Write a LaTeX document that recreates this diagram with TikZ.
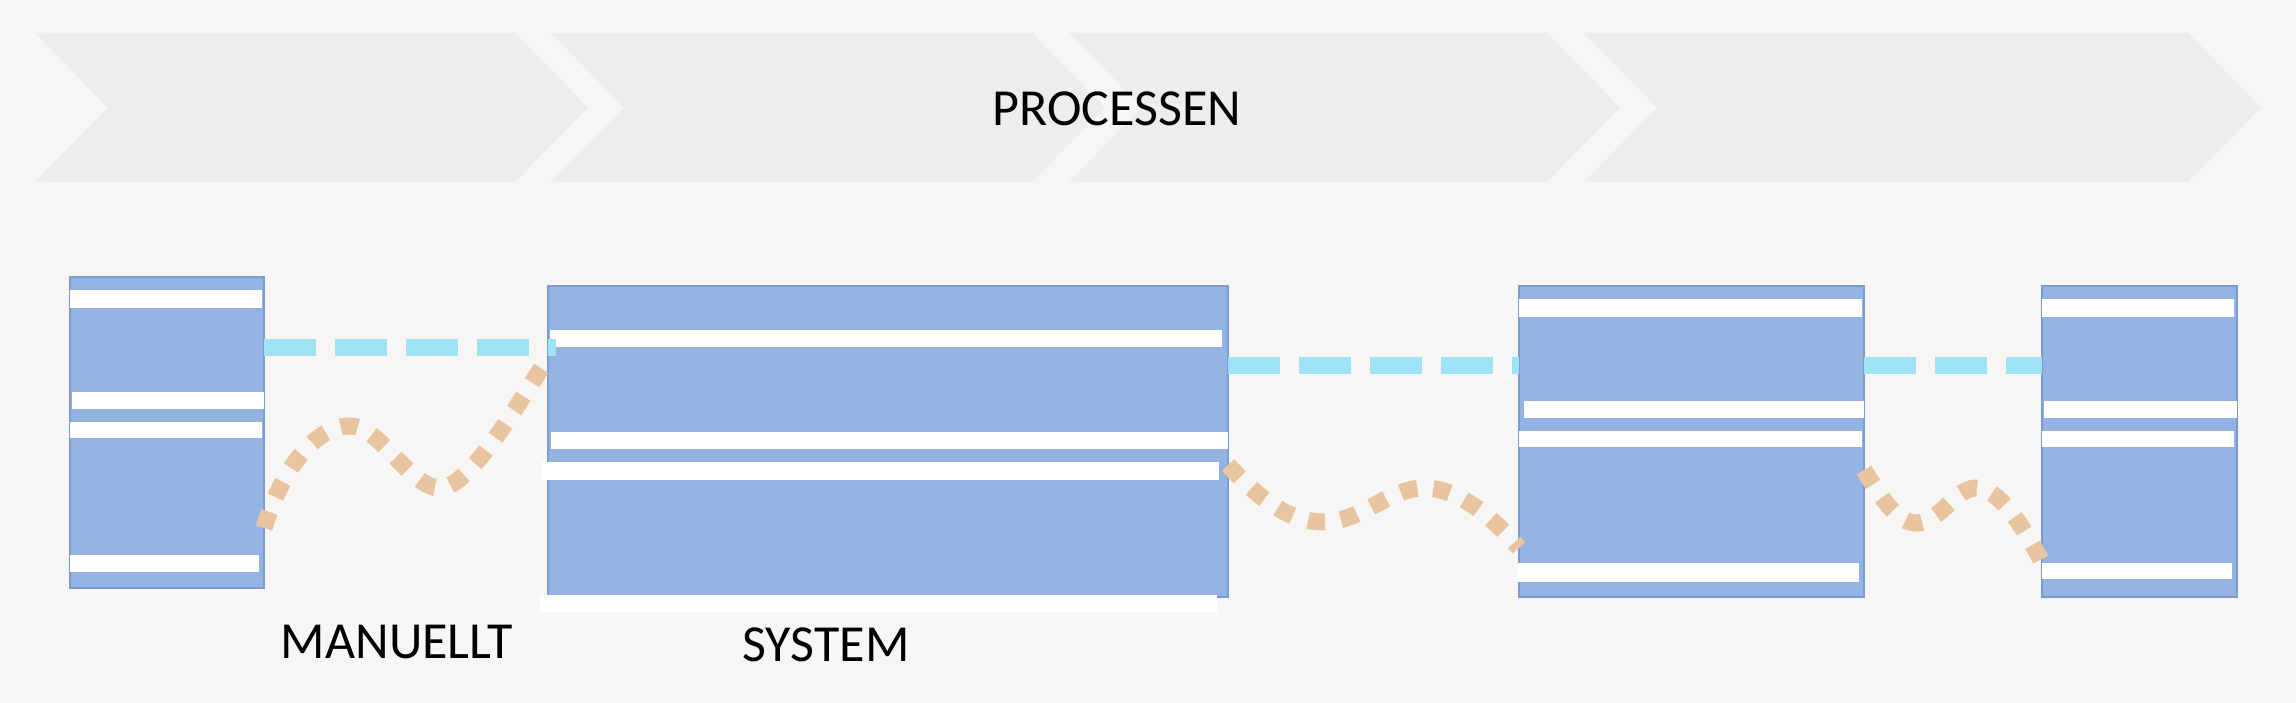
\documentclass[tikz,border=0pt]{standalone}
\usepackage{fontspec}
\setmainfont{Carlito}
\usepackage{tikz}
\usetikzlibrary{calc}
\definecolor{bgwarm}{HTML}{F7F6F4}
\definecolor{chevgray}{HTML}{EDEDED}
\definecolor{boxblue}{HTML}{93B3E2}
\definecolor{boxedge}{HTML}{7B9CD2}
\definecolor{flowcyan}{HTML}{9DE3F5}
\definecolor{manpeach}{HTML}{E9C4A0}

\begin{document}
\begin{tikzpicture}[x=1pt,y=-1pt,
  sysbox/.style={draw=boxedge, line width=2pt, fill=boxblue, minimum height=311pt, inner sep=0pt, outer sep=0pt},
  sysflow/.style={flowcyan, line width=17pt, dash pattern=on 52pt off 19pt},
  manflow/.style={manpeach, line width=17pt, dash pattern=on 17pt off 16pt},
  lbl/.style={font=\fontsize{52}{60}\selectfont}]
\useasboundingbox (0,0) rectangle (2296,703);
\fill[bgwarm] (0,0) rectangle (2296,703);
% process chevrons
\foreach \l/\r in {35/515, 551/1032, 1069/1547, 1584/2188}
  \fill[chevgray] (\l,33) -- (\r,33) -- (\r+73,107.5) -- (\r,182) -- (\l,182) -- (\l+73,107.5) -- cycle;
\node[lbl] (proc) at (1117,109) {PROCESSEN};
% systems
\node[sysbox, minimum width=194pt] (manuell) at (167,432.5) {};
\node[sysbox, minimum width=680pt] (system) at (888,441.5) {};
\node[sysbox, minimum width=345pt] (sysb) at (1691.5,441.5) {};
\node[sysbox, minimum width=195pt] (sysc) at (2139.5,441.5) {};
\foreach \a/\b/\c/\d in {70/290/262/308, 72/392/264/409, 70/422/262/438, 70/555/259/572,
    550/330/1222/347, 551/432/1228/449, 542/462/1219/480, 540/595/1217/612,
    1519/299/1862/317, 1524/401/1864/418, 1519/431/1862/447, 1518/563/1859/582,
    2042/299/2234/317, 2044/401/2237/418, 2042/431/2234/447, 2042/563/2232/579}
  \fill[white] (\a,\b) rectangle (\c,\d);
% system flow
\draw[sysflow] ([yshift=85.5pt]manuell.east) -- ([xshift=8pt,yshift=94.5pt]system.west);
\draw[sysflow] ([yshift=76.5pt]system.east) -- ([yshift=76.5pt]sysb.west);
\draw[sysflow] ([yshift=76.5pt]sysb.east) -- ([yshift=76.5pt]sysc.west);
% manual flow
\draw[manflow] ([yshift=-95.5pt]manuell.east) .. controls (285,460) and (320,426) .. (350,426)
  .. controls (380,426) and (410,488) .. (440,488)
  .. controls (470,488) and (520,400) .. ([yshift=83.5pt]system.west);
\draw[manflow] ([yshift=-23.5pt]system.east) .. controls (1260,500) and (1290,522) .. (1324,522)
  .. controls (1360,522) and (1390,488) .. (1424,488)
  .. controls (1460,488) and (1495,520) .. ([yshift=-106.5pt]sysb.west);
\draw[manflow] ([yshift=-28.5pt]sysb.east) .. controls (1885,505) and (1900,523) .. (1916,523)
  .. controls (1940,523) and (1955,488) .. (1976,488)
  .. controls (2000,488) and (2025,530) .. ([yshift=-120.5pt]sysc.west);
\node[lbl] (man) at (397,642) {MANUELLT};
\node[lbl] (sys) at (826,645) {SYSTEM};
\end{tikzpicture}
\end{document}
